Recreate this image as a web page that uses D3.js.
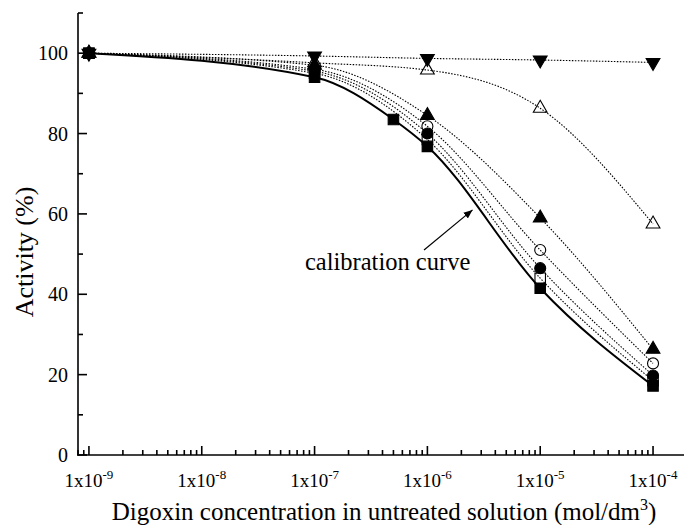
<!DOCTYPE html>
<html>
<head>
<meta charset="utf-8">
<script src="https://cdn.jsdelivr.net/npm/d3@7"></script>
<style>
  body { margin: 0; background: #fff; }
  svg text { font-family: "Liberation Serif", "Times New Roman", serif; fill: #000; }
</style>
</head>
<body>
<svg id="chart" width="684" height="525"></svg>
<script>
// concentrations (mol/dm3)
let concCal = [1e-9, 1e-7, 5e-7, 1e-6, 1e-5, 1e-4];
let conc = [1e-9, 1e-7, 1e-6, 1e-5, 1e-4];

// activity (%)
let actCal = [100, 94, 83.5, 76.8, 41.5, 17.2];      // filled squares, calibration curve
let actOpenSquare = [100, 95, 78.5, 44, 18.5];
let actFilledCircle = [100, 95.5, 80, 46.5, 19.8];
let actOpenCircle = [100, 96, 81.8, 51, 22.8];
let actUpTri = [100, 97, 84.5, 59, 26.3];
let actOpenTri = [100, 97.6, 95.8, 86.3, 57.5];
let actDownTri = [100, 99.3, 98.7, 98.3, 97.7];

let yTicks = [0, 20, 40, 60, 80, 100];
let xLabelExp = [-9, -8, -7, -6, -5, -4];

let series = [
  { x: conc, y: actDownTri, sym: "down", fill: "#000", solid: false },
  { x: conc, y: actOpenTri, sym: "up", fill: "none", solid: false },
  { x: conc, y: actUpTri, sym: "up", fill: "#000", solid: false },
  { x: conc, y: actOpenCircle, sym: "circle", fill: "none", solid: false },
  { x: conc, y: actFilledCircle, sym: "circle", fill: "#000", solid: false },
  { x: conc, y: actOpenSquare, sym: "square", fill: "none", solid: false },
  { x: concCal, y: actCal, sym: "square", fill: "#000", solid: true }
];

const svg = d3.select("#chart");

const x = d3.scaleLog().domain([8e-10, 2e-4]).range([78, 687]);
const y = d3.scaleLinear().domain([0, 110]).range([455, 13]);

// lines
const line = d3.line()
  .x((d) => x(d[0]))
  .y((d) => y(d[1]))
  .curve(d3.curveMonotoneX);

series.forEach((s) => {
  let pts = s.x.map((c, i) => [c, s.y[i]]);
  svg.append("path")
    .attr("d", line(pts))
    .attr("fill", "none")
    .attr("stroke", "#000")
    .attr("stroke-width", s.solid ? 2 : 1.1)
    .attr("stroke-dasharray", s.solid ? null : "1.5,1.5");
});

// markers
function symbolPath(sym) {
  if (sym == "square") return d3.symbol(d3.symbolSquare, 110)();
  if (sym == "circle") return d3.symbol(d3.symbolCircle, 95)();
  return d3.symbol(d3.symbolTriangle, 82)();
}

series.forEach((s) => {
  svg.append("g")
    .selectAll("path")
    .data(s.x.map((c, i) => [c, s.y[i]]))
    .enter()
    .append("path")
    .attr("d", symbolPath(s.sym))
    .attr("transform", (d) => `translate(${x(d[0])},${y(d[1])})` + (s.sym == "down" ? " rotate(180)" : ""))
    .attr("fill", s.fill)
    .attr("stroke", "#000")
    .attr("stroke-width", 1.1);
});

// axes
const axes = svg.append("g").attr("stroke", "#000").attr("stroke-width", 1.6);
axes.append("line").attr("x1", 78).attr("x2", 78).attr("y1", y(110)).attr("y2", y(0) + 0.8);
axes.append("line").attr("x1", 77.2).attr("x2", 687).attr("y1", y(0)).attr("y2", y(0));

// y ticks, inward
d3.range(0, 111, 10).forEach((v) => {
  let major = v % 20 == 0;
  axes.append("line")
    .attr("x1", 78).attr("x2", 78 + (major ? 9 : 5))
    .attr("y1", y(v)).attr("y2", y(v));
});

svg.selectAll(".ylab")
  .data(yTicks)
  .enter()
  .append("text")
  .attr("class", "ylab")
  .attr("x", 68)
  .attr("y", (d) => y(d) + 7)
  .attr("text-anchor", "end")
  .attr("font-size", 20)
  .text((d) => d);

// x ticks, inward
x.ticks().forEach((t) => {
  let e = Math.log10(t);
  let major = Math.abs(e - Math.round(e)) < 1e-6;
  axes.append("line")
    .attr("x1", x(t)).attr("x2", x(t))
    .attr("y1", y(0)).attr("y2", y(0) - (major ? 9 : 5));
});

let xl = svg.selectAll(".xlab")
  .data(xLabelExp)
  .enter()
  .append("text")
  .attr("class", "xlab")
  .attr("x", (d) => x(Math.pow(10, d)))
  .attr("y", 487)
  .attr("text-anchor", "middle")
  .attr("font-size", 19);
xl.append("tspan").text("1x10");
xl.append("tspan").attr("dy", -8).attr("font-size", 13).text((d) => d);

// axis titles
let xt = svg.append("text")
  .attr("x", 384)
  .attr("y", 520)
  .attr("text-anchor", "middle")
  .attr("font-size", 25);
xt.append("tspan").text("Digoxin concentration in untreated solution (mol/dm");
xt.append("tspan").attr("dy", -10).attr("font-size", 16).text("3");
xt.append("tspan").attr("dy", 10).text(")");

svg.append("text")
  .attr("transform", "translate(33,252) rotate(-90)")
  .attr("text-anchor", "middle")
  .attr("font-size", 26)
  .text("Activity (%)");

// annotation
svg.append("defs").append("marker")
  .attr("id", "head")
  .attr("viewBox", "0 0 10 10")
  .attr("refX", 10).attr("refY", 5)
  .attr("markerWidth", 9).attr("markerHeight", 9)
  .attr("markerUnits", "userSpaceOnUse")
  .attr("orient", "auto")
  .append("path")
  .attr("d", "M0,1 L10,5 L0,9 Z")
  .attr("fill", "#000");

svg.append("line")
  .attr("x1", x(Math.pow(10, -6.03))).attr("y1", y(51))
  .attr("x2", x(Math.pow(10, -5.6))).attr("y2", y(61))
  .attr("stroke", "#000")
  .attr("stroke-width", 1.2)
  .attr("marker-end", "url(#head)");

svg.append("text")
  .attr("x", x(Math.pow(10, -5.62)))
  .attr("y", y(46))
  .attr("text-anchor", "end")
  .attr("font-size", 24.5)
  .text("calibration curve");
</script>
</body>
</html>
